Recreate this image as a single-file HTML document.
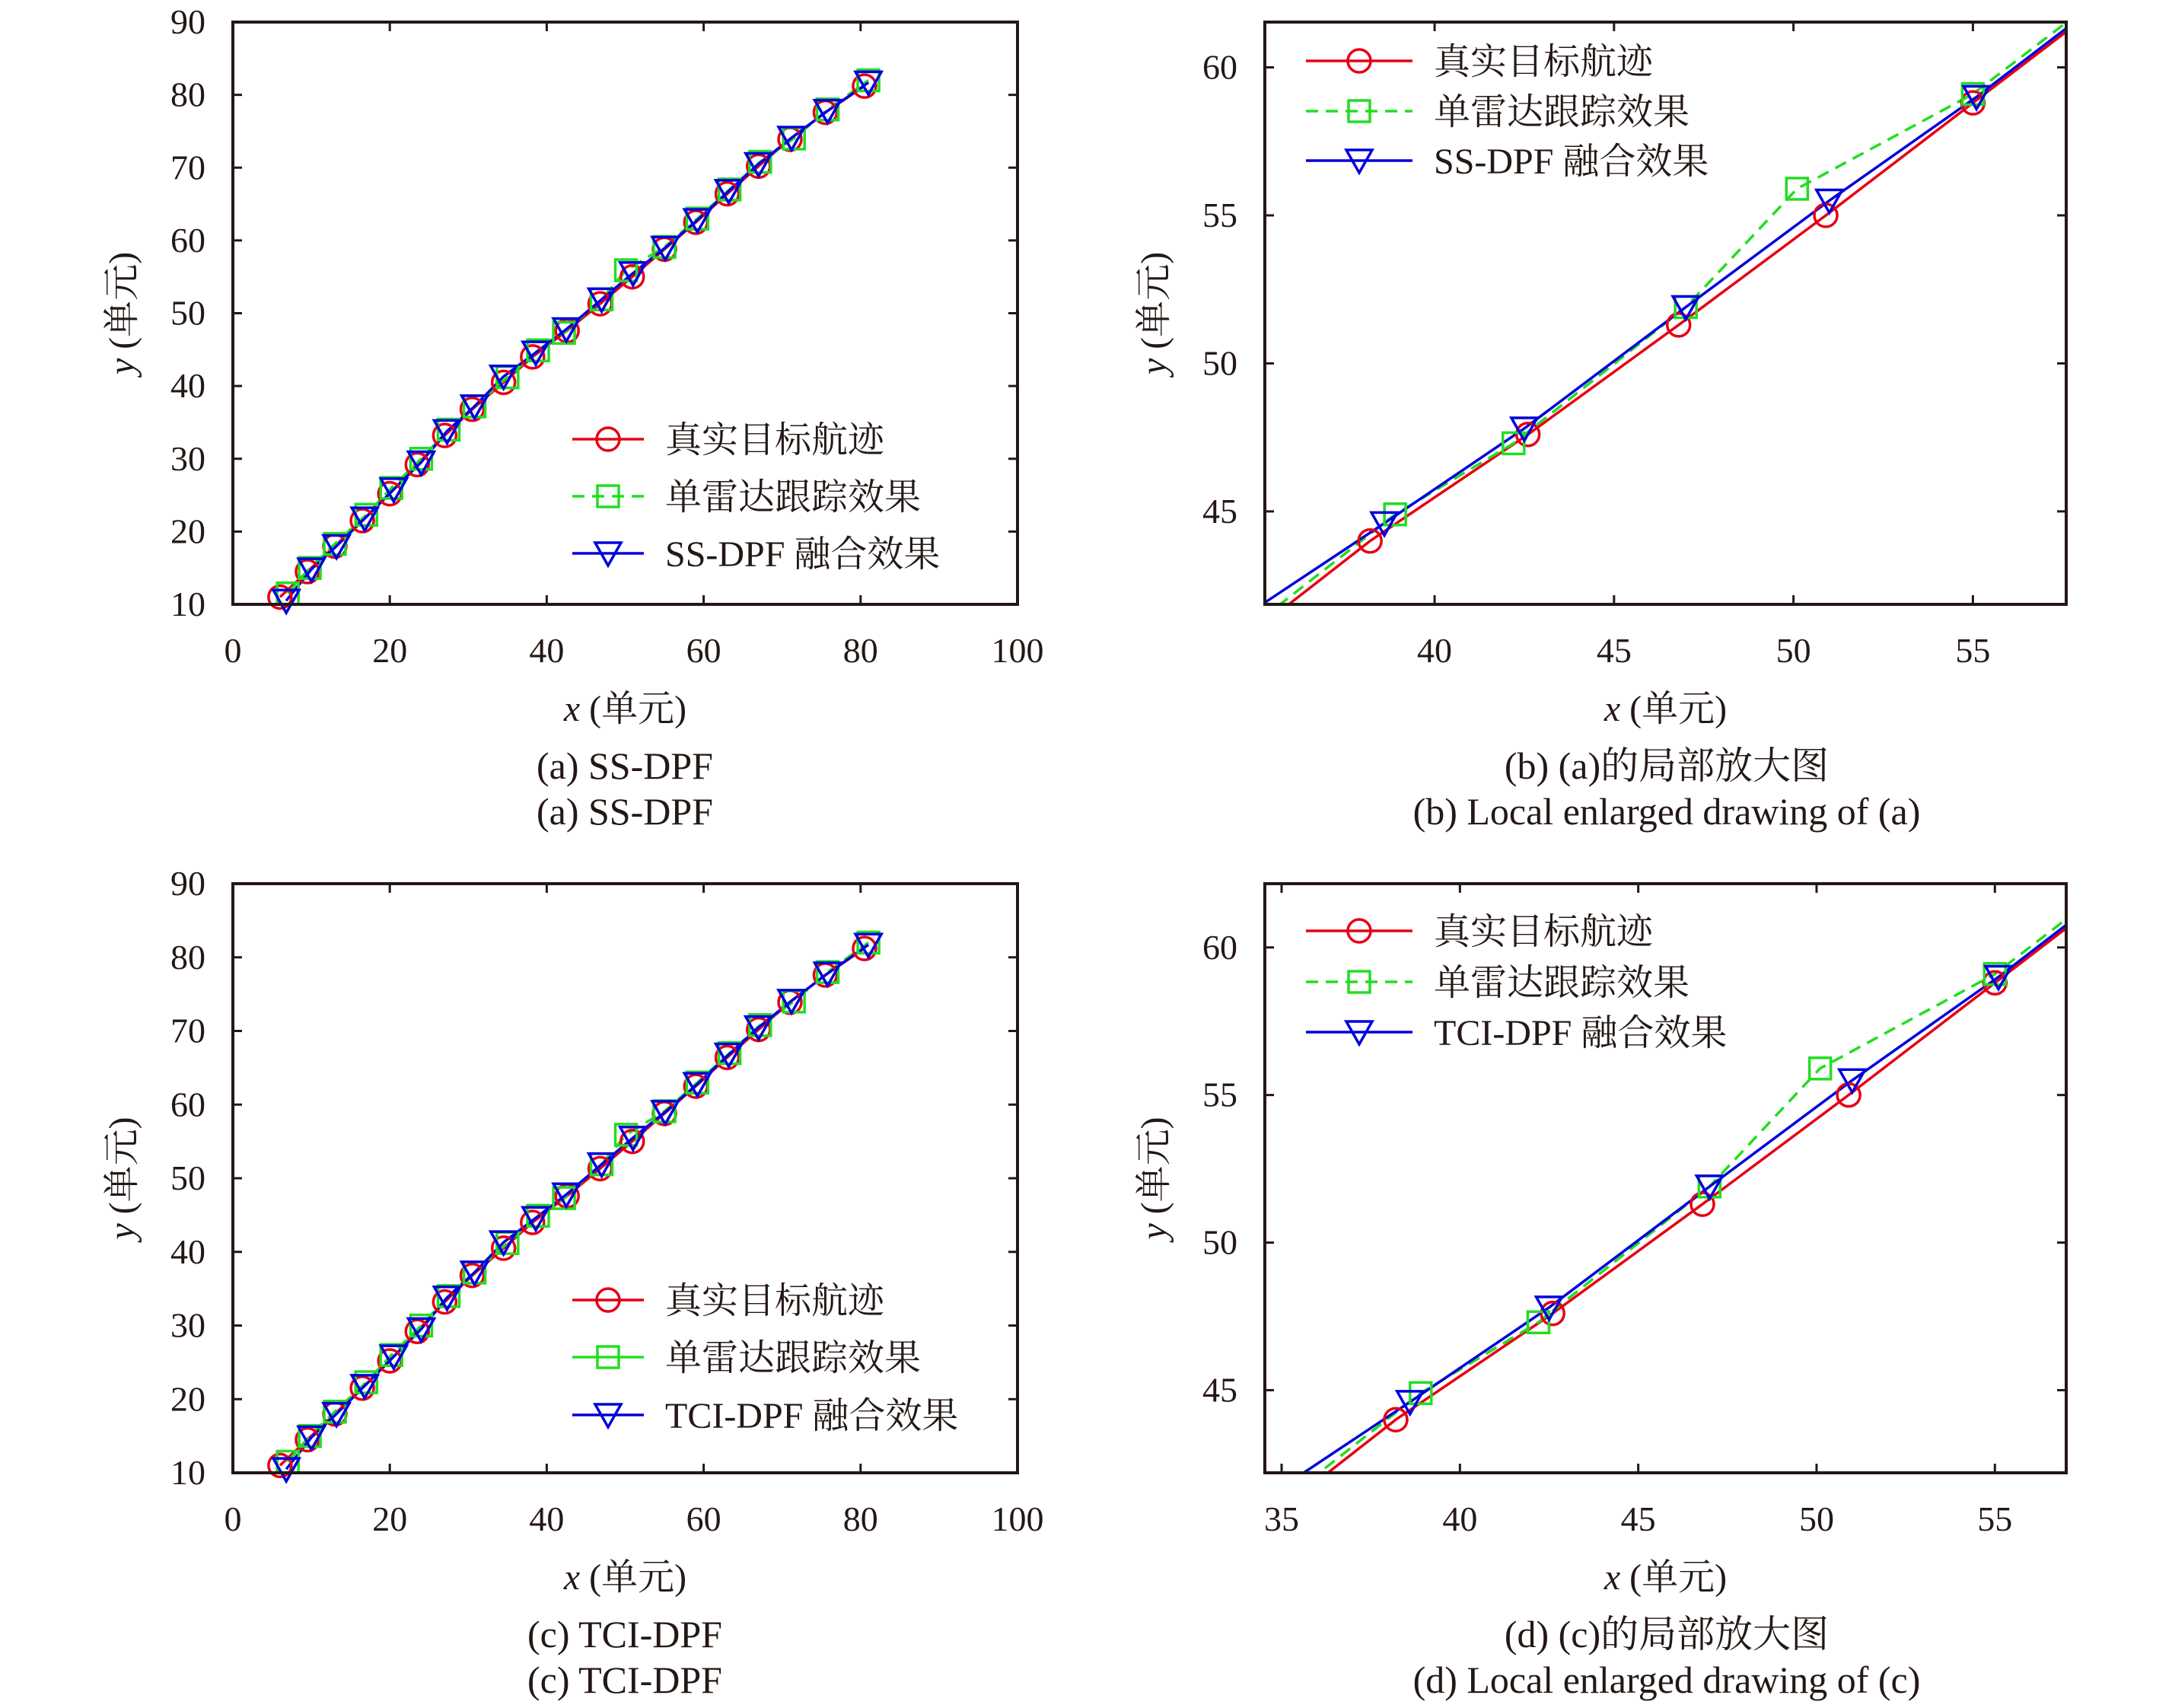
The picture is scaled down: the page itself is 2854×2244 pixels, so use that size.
<!DOCTYPE html>
<html><head><meta charset="utf-8"><style>
html,body{margin:0;padding:0;background:#fff;width:2854px;height:2244px;overflow:hidden;}
svg{display:block;}
text{font-family:"Liberation Serif","Noto Serif CJK SC","Noto Sans CJK SC",serif;fill:#231815;}
</style></head><body>
<svg id="s" width="2854" height="2244" viewBox="0 0 2854 2244" xmlns="http://www.w3.org/2000/svg"></svg>
<script>
const S=document.getElementById('s');const NS='http://www.w3.org/2000/svg';
function el(t,a,p){const e=document.createElementNS(NS,t);for(const k in a)e.setAttribute(k,a[k]);(p||S).appendChild(e);return e;}
function tx(str,a,p){const e=el('text',a,p);e.textContent=str;return e;}
const R=[[6,11],[9.5,14.5],[13,18],[16.5,21.5],[20,25.2],[23.5,29.2],[27,33.2],[30.5,36.8],[34.5,40.5],[38.2,44],[42.6,47.6],[46.8,51.3],[50.9,55],[55,58.8],[59,62.5],[63,66.4],[67,70.2],[71,73.9],[75.5,77.6],[80.5,81.2]];
const G=[[7,11.5],[9.8,15],[13,18.3],[17,22.3],[20.2,26],[24,30],[27.5,34],[30.8,37.2],[35,41.2],[38.9,44.9],[42.2,47.3],[47,51.9],[50.1,55.9],[55,59.1],[59.2,63],[63.3,67],[67.2,70.8],[71.5,74],[75.8,78],[81,82]];
const B=[[6.8,10.5],[10,14.8],[13.2,18],[16.8,21.8],[20.5,25.8],[24,29.5],[27.3,33.8],[30.8,37.2],[34.5,41.3],[38.6,44.6],[42.5,47.8],[47,51.9],[51,55.5],[55.1,59],[59.2,62.8],[63.2,66.8],[67,70.5],[71.2,74.1],[75.8,77.8],[81,81.7]];
function circ(p,x,y){el('circle',{cx:x,cy:y,r:15,fill:'none',stroke:'#e60012','stroke-width':3.5},p);}
function sq(p,x,y){el('rect',{x:x-14,y:y-14,width:28,height:28,fill:'none',stroke:'#22dd22','stroke-width':3.5},p);}
function tri(p,x,y){el('polygon',{points:`${x-17},${y-14} ${x+17},${y-14} ${x},${y+16}`,fill:'none',stroke:'#0000dd','stroke-width':3.5},p);}
let cid=0;
function panel(o){
 const {L,Rt,T,Bm,x0,x1,y0,y1,xt,yt,name,legX,legY,legC}=o;
 const X=v=>L+(v-x0)/(x1-x0)*(Rt-L), Y=v=>Bm-(v-y0)/(y1-y0)*(Bm-T);
 cid++;const cp=el('clipPath',{id:'c'+cid});el('rect',{x:L,y:T,width:Rt-L,height:Bm-T},cp);
 const g=el('g',{'clip-path':`url(#c${cid})`});
 const pts=a=>a.map(p=>X(p[0]).toFixed(1)+','+Y(p[1]).toFixed(1)).join(' ');
 el('polyline',{points:pts(R),fill:'none',stroke:'#e60012','stroke-width':3.5},g);
 el('polyline',{points:pts(G),fill:'none',stroke:'#22dd22','stroke-width':3.5,'stroke-dasharray':'16,10'},g);
 el('polyline',{points:pts(B),fill:'none',stroke:'#0000dd','stroke-width':3.5},g);
 const g2=el('g',{});
 const inb=(p)=>p[0]>=x0-0.3&&p[0]<=x1+0.3&&p[1]>=y0-0.3&&p[1]<=y1+0.3;
 R.forEach(p=>{if(inb(p))circ(g2,X(p[0]),Y(p[1]));});
 G.forEach(p=>{if(inb(p))sq(g2,X(p[0]),Y(p[1]));});
 B.forEach(p=>{if(inb(p))tri(g2,X(p[0]),Y(p[1]));});
 el('rect',{x:L,y:T,width:Rt-L,height:Bm-T,fill:'none',stroke:'#231815','stroke-width':4});
 xt.forEach(v=>{const x=X(v);el('line',{x1:x,y1:Bm,x2:x,y2:Bm-12,stroke:'#231815','stroke-width':3});el('line',{x1:x,y1:T,x2:x,y2:T+12,stroke:'#231815','stroke-width':3});tx(String(v),{x:x,y:Bm+76,'font-size':46,'text-anchor':'middle'});});
 yt.forEach(v=>{const y=Y(v);el('line',{x1:L,y1:y,x2:L+12,y2:y,stroke:'#231815','stroke-width':3});el('line',{x1:Rt,y1:y,x2:Rt-12,y2:y,stroke:'#231815','stroke-width':3});tx(String(v),{x:L-36,y:y+15,'font-size':46,'text-anchor':'end'});});
 const cx=(L+Rt)/2;
 const xl=tx('',{x:cx,y:Bm+153,'font-size':48,'text-anchor':'middle'});
 xl.innerHTML='<tspan font-style="italic">x</tspan> (单元)';
 const yc=(T+Bm)/2, yx=L-130;
 const yl=tx('',{x:0,y:0,'font-size':48,'text-anchor':'middle',transform:`translate(${yx},${yc}) rotate(-90)`});
 yl.innerHTML='<tspan font-style="italic">y</tspan> (单元)';
 tx(o.cap1,{x:o.capX,y:Bm+229,'font-size':50,'text-anchor':'middle'});
 tx(o.cap2,{x:o.capX,y:Bm+289,'font-size':50,'text-anchor':'middle'});
 const lx=legX, ly=legY, lw=o.legW;
 el('line',{x1:lx,y1:ly[0],x2:lx+lw,y2:ly[0],stroke:'#e60012','stroke-width':3.5});circ(S,lx+lw/2,ly[0]);
 const gl=el('line',{x1:lx,y1:ly[1],x2:lx+lw,y2:ly[1],stroke:'#22dd22','stroke-width':3.5});if(!legC)gl.setAttribute('stroke-dasharray','16,10');sq(S,lx+lw/2,ly[1]);
 el('line',{x1:lx,y1:ly[2],x2:lx+lw,y2:ly[2],stroke:'#0000dd','stroke-width':3.5});tri(S,lx+lw/2,ly[2]);
 const tx0=lx+lw+28;
 tx('真实目标航迹',{x:tx0,y:ly[0]+17,'font-size':48});
 tx('单雷达跟踪效果',{x:tx0,y:ly[1]+17,'font-size':48});
 tx(name+' 融合效果',{x:tx0,y:ly[2]+17,'font-size':48});
}
panel({L:306,Rt:1337,T:29,Bm:794,x0:0,x1:100,y0:10,y1:90,xt:[0,20,40,60,80,100],yt:[10,20,30,40,50,60,70,80,90],name:'SS-DPF',legX:752,legY:[577,652,727],legW:94,cap1:'(a) SS-DPF',cap2:'(a) SS-DPF',capX:821});
panel({L:1662,Rt:2715,T:29,Bm:794,x0:35.27,x1:57.6,y0:41.86,y1:61.53,xt:[40,45,50,55],yt:[45,50,55,60],name:'SS-DPF',legX:1716,legY:[80,146,211],legW:140,cap1:'(b) (a)的局部放大图',cap2:'(b) Local enlarged drawing of (a)',capX:2190});
panel({L:306,Rt:1337,T:1161,Bm:1935,x0:0,x1:100,y0:10,y1:90,xt:[0,20,40,60,80,100],yt:[10,20,30,40,50,60,70,80,90],name:'TCI-DPF',legX:752,legY:[1708,1783,1859],legW:94,legC:true,cap1:'(c) TCI-DPF',cap2:'(c) TCI-DPF',capX:821});
panel({L:1662,Rt:2715,T:1161,Bm:1935,x0:34.53,x1:57.0,y0:42.2,y1:62.16,xt:[35,40,45,50,55],yt:[45,50,55,60],name:'TCI-DPF',legX:1716,legY:[1223,1290,1356],legW:140,cap1:'(d) (c)的局部放大图',cap2:'(d) Local enlarged drawing of (c)',capX:2190});
</script>
</body></html>
